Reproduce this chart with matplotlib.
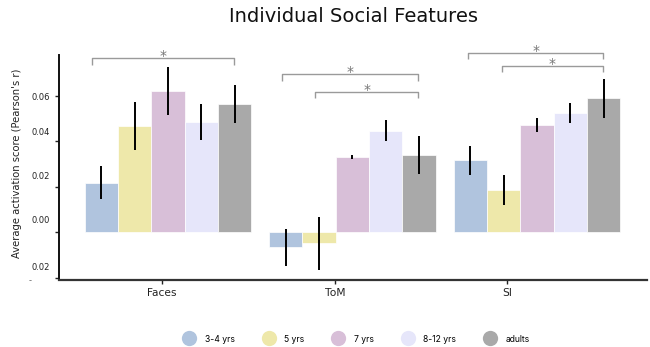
import matplotlib
matplotlib.use("Agg")
import matplotlib.pyplot as plt
from matplotlib.lines import Line2D
from matplotlib.transforms import ScaledTranslation
import numpy as np

# ---------------- data ----------------
categories = ["Faces", "ToM", "SI"]
groups = ["3-4 yrs", "5 yrs", "7 yrs", "8-12 yrs", "adults"]
colors = ["#b0c4de", "#eee8aa", "#d8bfd8", "#e6e6fa", "#a9a9a9"]

# mean values per group (rows) for each category (columns)
means = {
    "3-4 yrs":  [0.0218, -0.0066, 0.0316],
    "5 yrs":    [0.0467, -0.0047, 0.0186],
    "7 yrs":    [0.0620,  0.0331, 0.0471],
    "8-12 yrs": [0.0483,  0.0445, 0.0522],
    "adults":   [0.0562,  0.0338, 0.0588],
}
err_low = {
    "3-4 yrs":  [0.0145, -0.0147, 0.0253],
    "5 yrs":    [0.0361, -0.0166, 0.0121],
    "7 yrs":    [0.0514,  0.0322, 0.0442],
    "8-12 yrs": [0.0405,  0.0402, 0.0478],
    "adults":   [0.0478,  0.0256, 0.0502],
}
err_high = {
    "3-4 yrs":  [0.0291, 0.0015, 0.0379],
    "5 yrs":    [0.0573, 0.0068, 0.0250],
    "7 yrs":    [0.0727, 0.0339, 0.0500],
    "8-12 yrs": [0.0562, 0.0492, 0.0566],
    "adults":   [0.0647, 0.0421, 0.0673],
}

# significance brackets: (category index, group idx 1, group idx 2, top y, leg bottom y)
brackets = [
    (0, 0, 4, 0.0764, 0.0734),
    (1, 0, 4, 0.0695, 0.0664),
    (1, 1, 4, 0.0616, 0.0588),
    (2, 0, 4, 0.0786, 0.0759),
    (2, 1, 4, 0.0731, 0.0702),
]

ytick_values = [0.06, 0.04, 0.02, 0.00, -0.02]
ytick_labels = ["0.06", "0.04", "0.02", "0.00", "0.02"]

# ---------------- layout ----------------
W, H = 650, 347
fig = plt.figure(figsize=(6.5, 3.47), dpi=100)
ax = fig.add_axes([58.7 / W, 1 - 280 / H, (647.3 - 58.7) / W, (280 - 55) / H])

bar_w = 0.1806
x = np.arange(len(categories))
for j, g in enumerate(groups):
    xs = x + (j - 2) * bar_w
    m = np.array(means[g])
    lo = m - np.array(err_low[g])
    hi = np.array(err_high[g]) - m
    ax.bar(xs, m, width=bar_w, color=colors[j], edgecolor="white",
           linewidth=0.5, zorder=2)
    ax.errorbar(xs, m, yerr=[lo, hi], fmt="none", ecolor="black",
                elinewidth=1.4, capsize=0, zorder=3)

left_nudge = [-0.053, -0.02, -0.02, -0.01, -0.01]
for (ci, j1, j2, top, bot), nd in zip(brackets, left_nudge):
    x1 = ci + (j1 - 2) * bar_w + nd
    x2 = ci + (j2 - 2) * bar_w - 0.004
    ax.plot([x1, x1, x2, x2], [bot, top, top, bot], color="#9a9a9a",
            lw=1.0, clip_on=False, zorder=4, solid_capstyle="butt")
    ax.annotate("*", xy=((x1 + x2) / 2, top), xytext=(0, -1.3),
                textcoords="offset points", ha="center", va="baseline",
                fontsize=10, color="#777777", annotation_clip=False)

ax.set_xlim(-0.592, 2.598)
ax.set_ylim(-0.0209, 0.0778)

tick_pos = [-0.031, 0.905, 1.836]
ax.set_xticks(tick_pos, categories)
ax.set_yticks(ytick_values, ytick_labels)
ax.tick_params(axis="x", length=3, width=1, pad=2.9, labelsize=7.7,
               colors="#222222")
ax.tick_params(axis="y", length=2.6, width=1, pad=3.4, labelsize=6,
               colors="#222222")
offsets_px = [1, -9.3, -11, -12.7, -11.5]
for lab, dy in zip(ax.get_yticklabels(), offsets_px):
    lab.set_transform(lab.get_transform() +
                      ScaledTranslation(0, -dy / 100, fig.dpi_scale_trans))

for s in ["top", "right"]:
    ax.spines[s].set_visible(False)
ax.spines["left"].set_linewidth(1.4)
ax.spines["left"].set_color("#111111")
ax.spines["bottom"].set_linewidth(1.6)
ax.spines["bottom"].set_color("#333333")

ax.set_ylabel("Average activation score (Pearson's r)", fontsize=7.2,
              color="#222222")
ax.yaxis.set_label_coords((21.7 - 58.7) / 588.6, 0.52)

fig.text(29.7 / W, 1 - 281 / H, "-", fontsize=6, color="#666666",
         ha="center", va="center")

fig.text(353.3 / W, 1 - 16.7 / H, "Individual Social Features",
         fontsize=14, ha="center", va="center", color="#111111")

handles = [Line2D([], [], marker="o", linestyle="none", markersize=11,
                  markerfacecolor=c, markeredgecolor="none") for c in colors]
labels = groups[:-1] + ["adults"]
fig.legend(handles, labels, loc="center", ncol=5, frameon=False,
           bbox_to_anchor=(357.5 / W, 1 - 339 / H),
           prop={"family": "Inter", "size": 6.2},
           handlelength=1.0, handletextpad=1.3, columnspacing=3.45)

fig.savefig("out.png", dpi=100)
